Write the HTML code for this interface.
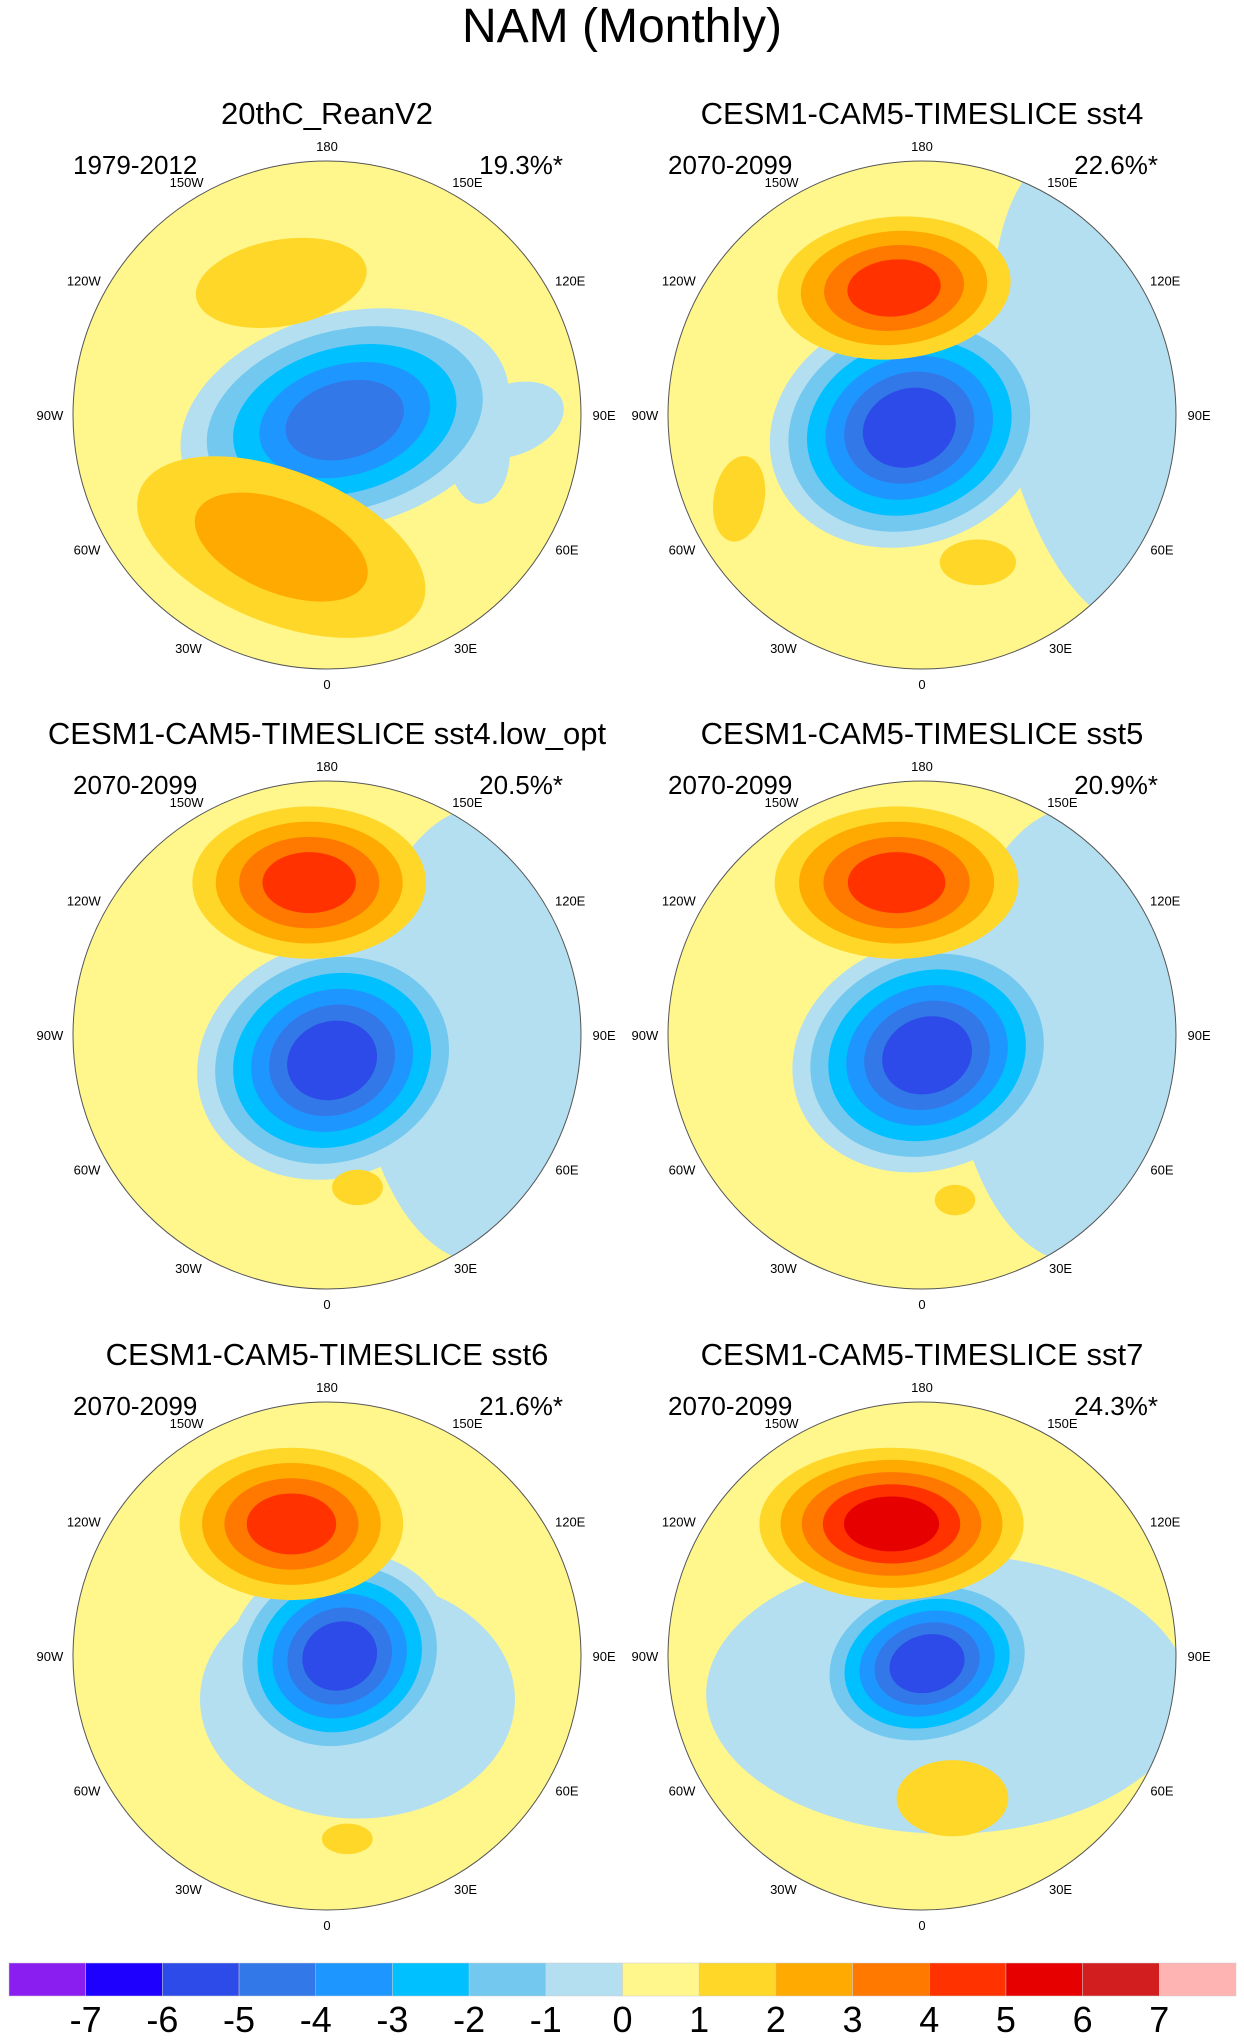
<!DOCTYPE html>
<html><head><meta charset="utf-8"><title>NAM (Monthly)</title>
<style>html,body{margin:0;padding:0;background:#fff}svg{display:block;font-family:"Liberation Sans",sans-serif}</style>
</head><body>
<svg id="chart" width="1244" height="2042" viewBox="0 0 1244 2042" xmlns="http://www.w3.org/2000/svg">
<text x="622" y="42" font-size="48" text-anchor="middle">NAM (Monthly)</text>
<g id="panels"></g>
<g id="colorbar"></g>
</svg>
<script>
const titles = ["20thC_ReanV2","CESM1-CAM5-TIMESLICE sst4","CESM1-CAM5-TIMESLICE sst4.low_opt","CESM1-CAM5-TIMESLICE sst5","CESM1-CAM5-TIMESLICE sst6","CESM1-CAM5-TIMESLICE sst7"];
const periods = ["1979-2012","2070-2099","2070-2099","2070-2099","2070-2099","2070-2099"];
const percents = ["19.3%*","22.6%*","20.5%*","20.9%*","21.6%*","24.3%*"];
const levels = [-7,-6,-5,-4,-3,-2,-1,0,1,2,3,4,5,6,7];
const bandColors = ["#8a1ef0","#1e00ff","#2d4be8","#3278e8","#1e96ff","#00c0ff","#73c8f0","#b4dff0","#fff68c","#ffd728","#ffaa00","#ff7800","#ff3200","#e60000","#d21e1e","#ffb4b4"];
const lonLabels = ["0","30E","60E","90E","120E","150E","180","150W","120W","90W","60W","30W"];
const lonValues = [0,30,60,90,120,150,180,210,240,270,300,330];
// anomaly features per panel: [x, y (radius units), rx, ry, rotation, peak value]
const features = [
 [[0.72,0.02,0.22,0.14,-20,-0.5],[0.6,0.15,0.12,0.2,0,-0.5],[0.07,0.02,0.66,0.42,-15,-4.5],[-0.18,-0.52,0.34,0.17,-10,1.5],[-0.18,0.52,0.6,0.3,22,2.5]],
 [[0.72,-0.1,0.42,0.95,-10,-0.5],[-0.05,0.05,0.56,0.46,-20,-5.5],[-0.11,-0.5,0.46,0.28,-5,4.5],[-0.72,0.33,0.1,0.17,10,1.5],[0.22,0.58,0.15,0.09,0,1.5]],
 [[0.62,0.0,0.5,0.9,0,-0.5],[0.02,0.1,0.54,0.46,-20,-5.5],[-0.07,-0.6,0.46,0.3,0,4.5],[0.12,0.6,0.1,0.07,0,1.5]],
 [[0.62,0.0,0.5,0.9,0,-0.5],[0.02,0.08,0.54,0.45,-20,-5.5],[-0.1,-0.6,0.48,0.3,0,4.5],[0.13,0.65,0.08,0.06,0,1.5]],
 [[0.12,0.17,0.62,0.47,0,-0.5],[0.05,0.0,0.45,0.4,-25,-5.8],[-0.14,-0.52,0.44,0.3,0,4.5],[0.08,0.72,0.1,0.06,0,1.5]],
 [[0.1,0.15,0.95,0.55,0,-0.5],[0.02,0.03,0.45,0.34,-15,-5.5],[-0.12,-0.52,0.52,0.3,0,5.5],[0.12,0.56,0.22,0.15,0,1.5]]
];
const R = 254;
const centersX = [327,922];
const centersY = [415,1035,1656];
const NS = "http://www.w3.org/2000/svg";
function mk(tag, attrs, parent){const e=document.createElementNS(NS,tag);for(const k in attrs)e.setAttribute(k,attrs[k]);parent.appendChild(e);return e;}
const panelsG = document.getElementById('panels');
for(let p=0;p<6;p++){
  const cx = centersX[p%2], cy = centersY[Math.floor(p/2)];
  const g = mk('g',{},panelsG);
  
  
  const t = mk('text',{x:cx,y:cy-291,'font-size':31,'text-anchor':'middle'},g);
  t.textContent = titles[p];
  
  
  const yr = mk('text',{x:cx-254,y:cy-241,'font-size':26},g);
  yr.textContent = periods[p];
  
  
  const pc = mk('text',{x:cx+236,y:cy-241,'font-size':26,'text-anchor':'end'},g);
  pc.textContent = percents[p];
  
  
  const cp = mk('clipPath',{id:'clip'+p},g);
  mk('circle',{cx:cx,cy:cy,r:R},cp);
  const mg = mk('g',{'clip-path':'url(#clip'+p+')'},g);
  
  
  mk('rect',{x:cx-R,y:cy-R,width:2*R,height:2*R,fill:bandColors[8]},mg);
  for(const f of features[p]){
    const [fx,fy,rx,ry,rot,peak]=f;
    const n = peak>0 ? Math.floor(peak) : Math.ceil(-peak);
    for(let k=1;k<=n;k++){
      const s = 1-(k-1)/n*0.8;
      const col = peak>0 ? bandColors[8+k] : bandColors[8-k];
      const el = mk('ellipse',{cx:cx+fx*R,cy:cy+fy*R,rx:rx*R*s,ry:ry*R*s,fill:col,transform:`rotate(${rot} ${cx+fx*R} ${cy+fy*R})`},mg);
      
      
    }
  }
  mk('circle',{cx:cx,cy:cy,r:R,fill:'none',stroke:'#555','stroke-width':1},g);
  for(let i=0;i<lonValues.length;i++){
    const a = lonValues[i]*Math.PI/180;
    const rr = R+12;
    const half = lonLabels[i].length*3.7;
    const lx = cx + rr*Math.sin(a) + half*Math.sin(a);
    const ly = cy + rr*Math.cos(a) + 5 + 3*Math.cos(a);
    const lt = mk('text',{x:lx,y:ly,'font-size':13,'text-anchor':'middle'},g);
    lt.textContent = lonLabels[i];
    
    
  }
}
const cb = document.getElementById('colorbar');
const x0=9, x1=1236, w=(x1-x0)/bandColors.length;
for(let i=0;i<bandColors.length;i++){
  const r = mk('rect',{x:x0+i*w,y:1963,width:w,height:33,fill:bandColors[i],stroke:'#ccc','stroke-width':0.5},cb);
  
  
}
for(let i=0;i<levels.length;i++){
  const t = mk('text',{x:x0+(i+1)*w,y:2032,'font-size':36,'text-anchor':'middle'},cb);
  t.textContent = levels[i];
  
  
}
</script>
</body></html>
